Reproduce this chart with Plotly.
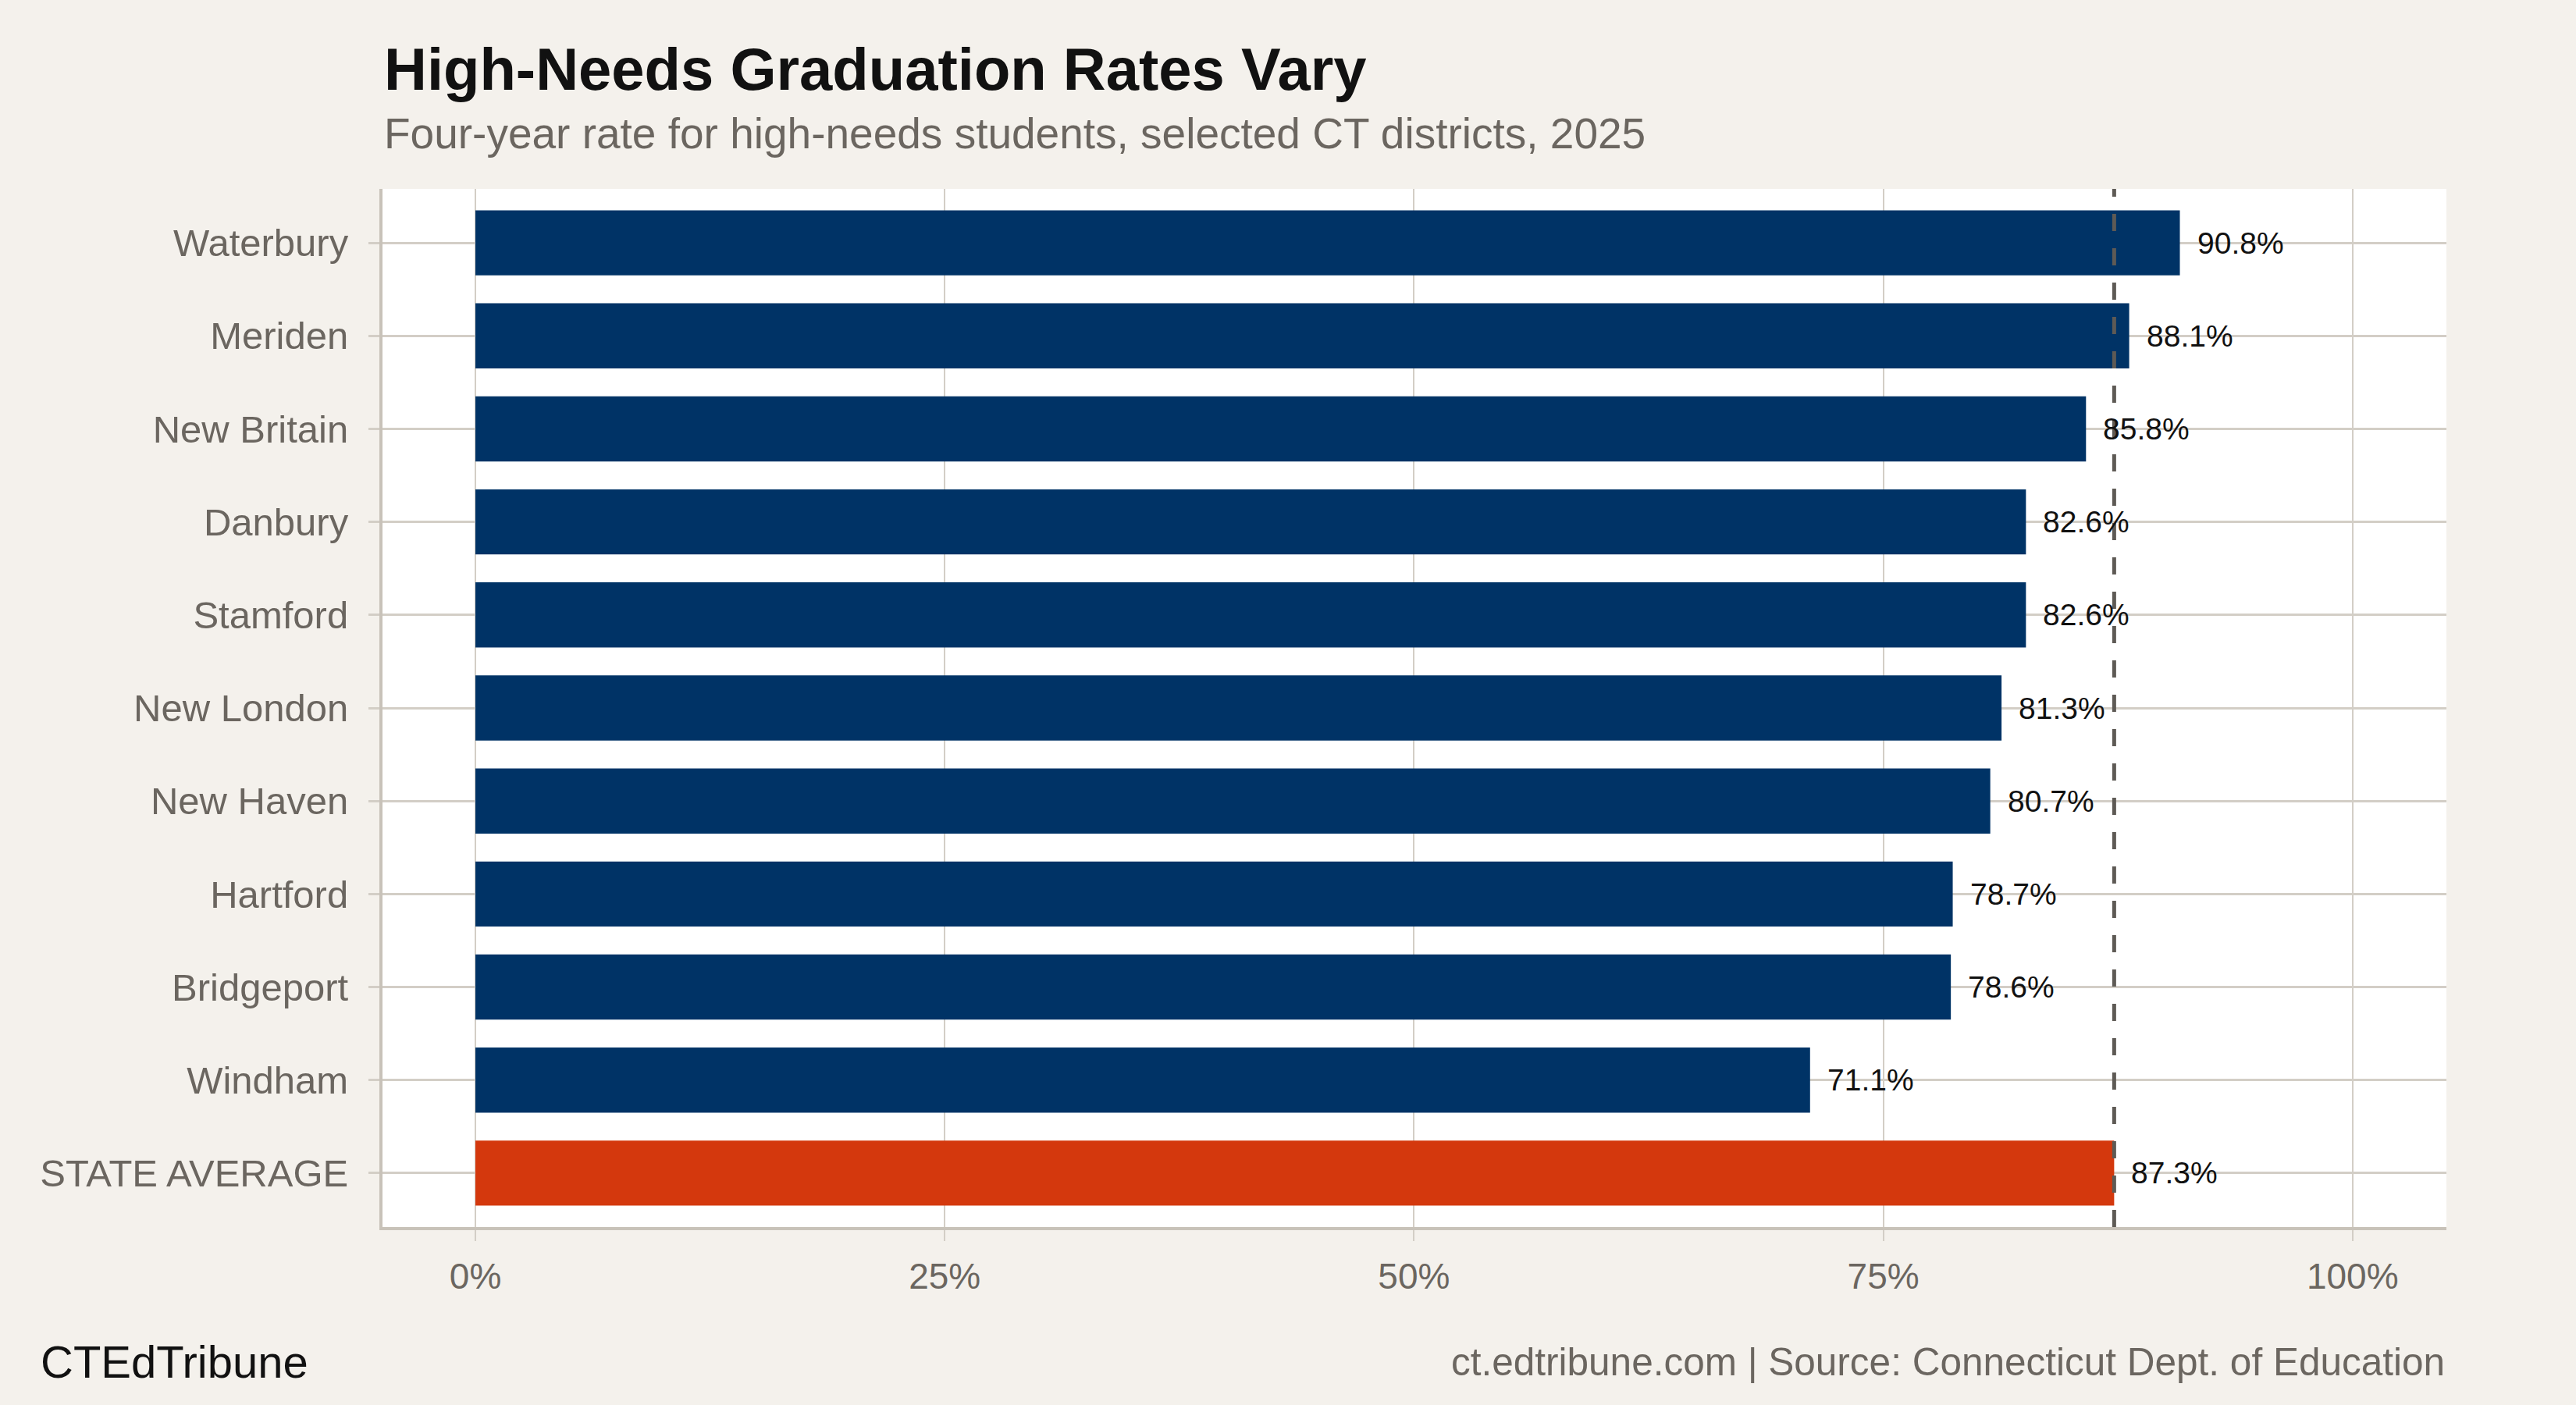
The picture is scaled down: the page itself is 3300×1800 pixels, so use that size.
import plotly.graph_objects as go

districts = ["Waterbury", "Meriden", "New Britain", "Danbury", "Stamford", "New London",
             "New Haven", "Hartford", "Bridgeport", "Windham", "STATE AVERAGE"]
rates = [90.8, 88.1, 85.8, 82.6, 82.6, 81.3, 80.7, 78.7, 78.6, 71.1, 87.3]
state_avg = 87.3
x_ticks = [0, 25, 50, 75, 100]
x_tick_labels = ["0%", "25%", "50%", "75%", "100%"]

NAVY = "#003366"
ORANGE = "#D4380D"
BG = "#F4F1EC"
GRID = "#D3CEC6"
AXIS = "#C8C2B9"
GREY_TXT = "#6B6660"
FONT = "Liberation Sans, Arial, sans-serif"

colors = [ORANGE if d == "STATE AVERAGE" else NAVY for d in districts]

fig = go.Figure()
fig.add_trace(go.Bar(
    x=rates, y=districts, orientation="h",
    marker=dict(color=colors, line=dict(width=0)),
    width=0.7, hoverinfo="skip",
))

# dashed state-average reference line
fig.add_shape(type="line", xref="x", yref="paper", x0=state_avg, x1=state_avg, y0=0, y1=1,
              line=dict(color="#5E5A55", width=5, dash="22px,22px"), layer="above")

# value labels
for d, v in zip(districts, rates):
    fig.add_annotation(x=v, y=d, xref="x", yref="y", text=f"{v:.1f}%", showarrow=False,
                       xanchor="left", yanchor="middle", xshift=20,
                       font=dict(family=FONT, size=39, color="#111111"))

# title/subtitle/footer
fig.add_annotation(text="<b>High-Needs Graduation Rates Vary</b>", xref="paper", yref="paper",
                   x=0, y=1, xanchor="left", yanchor="middle", yshift=242 - 88, showarrow=False,
                   font=dict(family=FONT, size=76, color="#111111"))
fig.add_annotation(text="Four-year rate for high-needs students, selected CT districts, 2025",
                   xref="paper", yref="paper", x=0, y=1, xanchor="left", yanchor="middle",
                   yshift=242 - 171, showarrow=False,
                   font=dict(family=FONT, size=55, color=GREY_TXT))
fig.add_annotation(text="CTEdTribune", xref="paper", yref="paper", x=0, y=0,
                   xanchor="left", yanchor="middle", xshift=-440, yshift=1572 - 1744,
                   showarrow=False, font=dict(family=FONT, size=58, color="#111111"))
fig.add_annotation(text="ct.edtribune.com | Source: Connecticut Dept. of Education",
                   xref="paper", yref="paper", x=1, y=0, xanchor="right", yanchor="middle",
                   yshift=1572 - 1744, showarrow=False,
                   font=dict(family=FONT, size=49.5, color=GREY_TXT))

fig.update_layout(
    width=3300, height=1800,
    margin=dict(l=490, r=166, t=242, b=228),
    paper_bgcolor=BG, plot_bgcolor="#FFFFFF",
    showlegend=False, bargap=0.3,
    font=dict(family=FONT),
)
fig.update_xaxes(
    range=[-4.95, 105], tickvals=x_ticks, ticktext=x_tick_labels,
    showgrid=True, gridcolor=GRID, gridwidth=2, zeroline=False,
    showline=True, linecolor=AXIS, linewidth=4,
    ticks="outside", ticklen=14, tickwidth=2, tickcolor=GRID,
    ticklabelstandoff=6,
    tickfont=dict(family=FONT, size=46, color=GREY_TXT),
)
fig.update_yaxes(
    categoryorder="array", categoryarray=districts, range=[10.58, -0.58],
    showgrid=True, gridcolor=GRID, gridwidth=3, zeroline=False,
    showline=True, linecolor=AXIS, linewidth=4,
    ticks="outside", ticklen=14, tickwidth=3, tickcolor=GRID,
    ticklabelstandoff=16,
    tickfont=dict(family=FONT, size=49, color=GREY_TXT),
)

fig.write_html("out.html")
